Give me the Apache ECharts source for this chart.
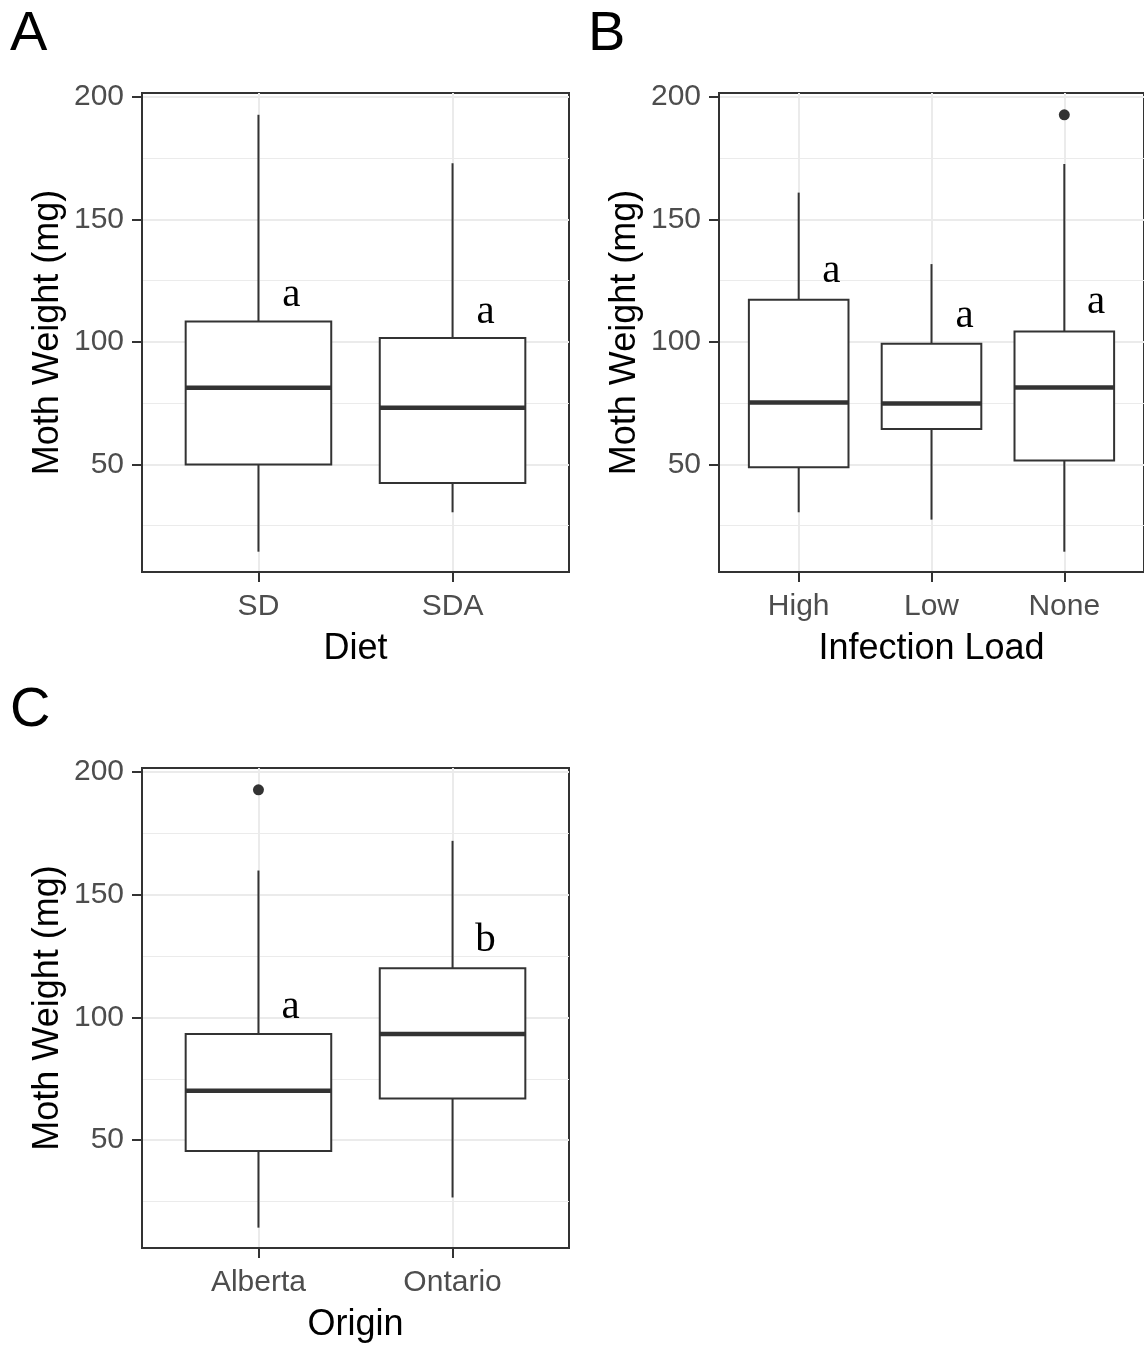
<!DOCTYPE html>
<html>
<head>
<meta charset="utf-8">
<script src="https://cdn.jsdelivr.net/npm/echarts@6/dist/echarts.min.js"></script>
<style>
  html, body { margin: 0; padding: 0; background: #ffffff; }
  #chart { width: 1144px; height: 1346px; }
</style>
</head>
<body>
<div id="chart"></div>
<script>
// Moth weight (mg) box summaries: [lower whisker, Q1, median, Q3, upper whisker]
const dietCategories = ['SD', 'SDA'];
const dietStats = [
  [14.3, 49.9, 81.3, 108.3, 192.8],
  [30.4, 42.4, 73.1, 101.6, 173.0]
];
const dietOutliers = [];
const dietLetters = ['a', 'a'];
const dietLetterX = [1.17, 2.17];
const dietLetterY = [119.2, 112.2];

const loadCategories = ['High', 'Low', 'None'];
const loadStats = [
  [30.4, 48.8, 75.3, 117.2, 161.0],
  [27.4, 64.4, 74.8, 99.3, 131.8],
  [14.3, 51.6, 81.4, 104.3, 172.7]
];
const loadOutliers = [[3, 192.8]];
const loadLetters = ['a', 'a', 'a'];
const loadLetterX = [1.245, 2.25, 3.24];
const loadLetterY = [128.8, 110.3, 116.3];

const originCategories = ['Alberta', 'Ontario'];
const originStats = [
  [14.3, 45.5, 70.1, 93.3, 159.9],
  [26.6, 67.0, 93.3, 120.1, 172.0]
];
const originOutliers = [[1, 192.8]];
const originLetters = ['a', 'b'];
const originLetterX = [1.165, 2.17];
const originLetterY = [104.3, 131.3];

const yTicks = [50, 100, 150, 200];
const yMinorTicks = [25, 75, 125, 175];
const Y_MIN = 6.0;
const Y_MAX = 201.7;

// ---- styling ----
const SANS = '"Liberation Sans", Arial, sans-serif';
const SERIF = '"Liberation Serif", "Times New Roman", serif';
const INK = '#333333';
const GRID_LINE = '#EBEBEB';
const BOX_WIDTH = 0.75;

const panels = [
  { tag: 'A', xName: 'Diet', cats: dietCategories, stats: dietStats, outliers: dietOutliers,
    letters: dietLetters, letterX: dietLetterX, letterY: dietLetterY,
    rect: { left: 142, top: 93, width: 427, height: 479 }, tagPos: [10, 35] },
  { tag: 'B', xName: 'Infection Load', cats: loadCategories, stats: loadStats, outliers: loadOutliers,
    letters: loadLetters, letterX: loadLetterX, letterY: loadLetterY,
    rect: { left: 719, top: 93, width: 427, height: 479 }, tagPos: [588, 35] },
  { tag: 'C', xName: 'Origin', cats: originCategories, stats: originStats, outliers: originOutliers,
    letters: originLetters, letterX: originLetterX, letterY: originLetterY,
    rect: { left: 142, top: 768, width: 427, height: 480 }, tagPos: [10, 711] }
];

function renderBox(params, api) {
  const x = api.value(0);
  const lo = api.coord([x, api.value(1)]);
  const cx = lo[0];
  const yLo = lo[1];
  const yQ1 = api.coord([x, api.value(2)])[1];
  const yMed = api.coord([x, api.value(3)])[1];
  const yQ3 = api.coord([x, api.value(4)])[1];
  const yHi = api.coord([x, api.value(5)])[1];
  const half = api.size([BOX_WIDTH, 0])[0] / 2;
  const thin = { stroke: INK, lineWidth: 2 };
  return {
    type: 'group',
    children: [
      { type: 'line', shape: { x1: cx, y1: yHi, x2: cx, y2: yQ3 }, style: thin },
      { type: 'line', shape: { x1: cx, y1: yQ1, x2: cx, y2: yLo }, style: thin },
      { type: 'rect', shape: { x: cx - half, y: yQ3, width: 2 * half, height: yQ1 - yQ3 },
        style: { fill: '#ffffff', stroke: INK, lineWidth: 2 } },
      { type: 'line', shape: { x1: cx - half, y1: yMed, x2: cx + half, y2: yMed },
        style: { stroke: INK, lineWidth: 4.5 } }
    ]
  };
}

function letterRenderer(letters) {
  return function (params, api) {
    const p = api.coord([api.value(0), api.value(1)]);
    return {
      type: 'text',
      x: p[0], y: p[1],
      style: {
        text: letters[params.dataIndex],
        fontFamily: SERIF, fontSize: 41, fill: '#000000',
        align: 'center', verticalAlign: 'middle'
      }
    };
  };
}

const option = {
  animation: false,
  backgroundColor: '#ffffff',
  grid: [], xAxis: [], yAxis: [], series: [], graphic: []
};

panels.forEach(function (pn, gi) {
  const n = pn.cats.length;
  const centers = pn.cats.map(function (_, i) { return i + 1; });

  option.grid.push(Object.assign({
    show: true, borderColor: INK, borderWidth: 2, backgroundColor: 'transparent'
  }, pn.rect));

  option.xAxis.push({
    gridIndex: gi, type: 'value', min: 0.4, max: n + 0.6,
    name: pn.xName, nameLocation: 'middle', nameGap: 59,
    nameTextStyle: { fontFamily: SANS, fontSize: 36, color: '#000000' },
    axisLine: { show: true, onZero: false, lineStyle: { color: INK, width: 2 } },
    axisTick: { show: true, length: 10, customValues: centers, lineStyle: { color: INK, width: 2 } },
    axisLabel: {
      customValues: centers, margin: 20,
      fontFamily: SANS, fontSize: 30, color: '#4D4D4D',
      formatter: function (v) { return pn.cats[Math.round(v) - 1] || ''; }
    },
    splitLine: { show: true, lineStyle: { color: GRID_LINE, width: 2 } }
  });

  // main y axis with labelled ticks and major grid lines
  option.yAxis.push({
    gridIndex: gi, type: 'value', min: Y_MIN, max: Y_MAX,
    name: 'Moth Weight (mg)', nameLocation: 'middle', nameGap: 76, nameRotate: 90,
    nameTextStyle: { fontFamily: SANS, fontSize: 36, color: '#000000' },
    axisLine: { show: true, onZero: false, lineStyle: { color: INK, width: 2 } },
    axisTick: { show: true, length: 10, customValues: yTicks, lineStyle: { color: INK, width: 2 } },
    axisLabel: { customValues: yTicks, margin: 18, fontFamily: SANS, fontSize: 30, color: '#4D4D4D' },
    splitLine: { show: true, lineStyle: { color: GRID_LINE, width: 2 } }
  });
  // companion y axis carrying only the minor grid lines
  option.yAxis.push({
    gridIndex: gi, type: 'value', min: Y_MIN, max: Y_MAX, position: 'left',
    axisLine: { show: false },
    axisTick: { show: false, customValues: yMinorTicks },
    axisLabel: { show: false, customValues: yMinorTicks },
    splitLine: { show: true, lineStyle: { color: GRID_LINE, width: 1 } }
  });

  const yIdx = gi * 2;

  option.series.push({
    type: 'custom', xAxisIndex: gi, yAxisIndex: yIdx,
    renderItem: renderBox,
    encode: { x: 0, y: [1, 2, 3, 4, 5] },
    data: pn.stats.map(function (s, i) { return [i + 1].concat(s); }),
    z: 3
  });

  if (pn.outliers.length) {
    option.series.push({
      type: 'scatter', xAxisIndex: gi, yAxisIndex: yIdx,
      symbol: 'circle', symbolSize: 11,
      itemStyle: { color: INK, opacity: 1 },
      data: pn.outliers, z: 4
    });
  }

  option.series.push({
    type: 'custom', xAxisIndex: gi, yAxisIndex: yIdx,
    renderItem: letterRenderer(pn.letters),
    encode: { x: 0, y: 1 },
    data: pn.letterX.map(function (x, i) { return [x, pn.letterY[i]]; }),
    z: 5
  });

  option.graphic.push({
    type: 'text', x: pn.tagPos[0], y: pn.tagPos[1],
    style: { text: pn.tag, fontFamily: SANS, fontSize: 56, fill: '#000000', verticalAlign: 'middle' }
  });
});

const chart = echarts.init(document.getElementById('chart'), null, { renderer: 'canvas' });
chart.setOption(option);
</script>
</body>
</html>
